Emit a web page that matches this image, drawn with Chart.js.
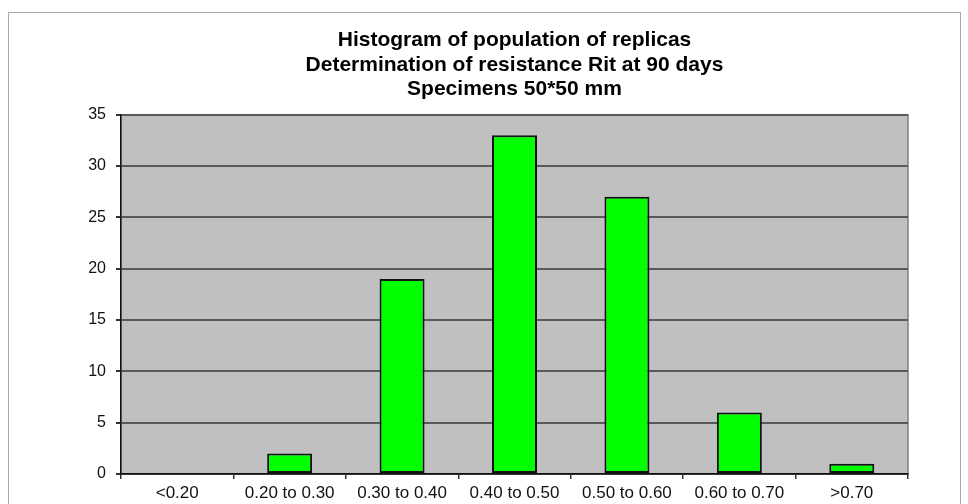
<!DOCTYPE html>
<html>
<head>
<meta charset="utf-8">
<script src="https://cdn.jsdelivr.net/npm/chart.js@4.4.1/dist/chart.umd.min.js"></script>
<style>
    html, body { margin: 0; padding: 0; background: #fff; }
    #wrap { width: 968px; height: 504px; position: relative; }
</style>
</head>
<body>
<div id="wrap"><canvas id="histChart"></canvas></div>
<script>
// Data
const categories = ['<0.20', '0.20 to 0.30', '0.30 to 0.40', '0.40 to 0.50', '0.50 to 0.60', '0.60 to 0.70', '>0.70'];
const counts = [0, 2, 19, 33, 27, 6, 1];
const titleLines = ['Histogram of population of replicas', 'Determination of resistance Rit at 90 days', 'Specimens 50*50 mm'];
const yMin = 0;
const yMax = 35;
const yStep = 5;

// Gray plot background + outer frame
const framePlugin = {
    id: 'framePlugin',
    beforeDraw(chart) {
        const ctx = chart.ctx;
        const a = chart.chartArea;
        ctx.save();
        ctx.fillStyle = '#ffffff';
        ctx.fillRect(0, 0, chart.width, chart.height);
        ctx.strokeStyle = '#a8a8a8';
        ctx.lineWidth = 1;
        ctx.strokeRect(8.5, 12.5, 952, 520);
        ctx.fillStyle = '#c0c0c0';
        ctx.fillRect(a.left, a.top, a.right - a.left, a.bottom - a.top);
        ctx.strokeStyle = '#808080';
        ctx.lineWidth = 1.5;
        ctx.strokeRect(a.left, a.top, a.right - a.left, a.bottom - a.top);
        ctx.restore();
    }
};

const ctx = document.getElementById('histChart').getContext('2d');
new Chart(ctx, {
    type: 'bar',
    data: {
        labels: categories,
        datasets: [{
            data: counts,
            backgroundColor: '#00ff00',
            borderColor: '#111111',
            borderWidth: 2,
            borderSkipped: false,
            categoryPercentage: 1.0,
            barPercentage: 0.4
        }]
    },
    options: {
        responsive: true,
        maintainAspectRatio: false,
        animation: false,
        layout: { padding: { top: 17, right: 60, left: 0, bottom: 0 } },
        plugins: {
            legend: { display: false },
            tooltip: { enabled: false },
            title: {
                display: true,
                fullSize: false,
                text: titleLines,
                color: '#000000',
                font: { family: 'Liberation Sans, Arial, sans-serif', size: 21, weight: 'bold', lineHeight: 1.17 },
                padding: { top: 11, bottom: 13 }
            }
        },
        scales: {
            x: {
                grid: {
                    offset: true,
                    drawOnChartArea: false,
                    tickLength: 5,
                    tickColor: '#333333',
                    lineWidth: 1.5
                },
                border: { color: '#111111', width: 1.5 },
                ticks: {
                    color: '#111111',
                    padding: 4,
                    maxRotation: 0,
                    font: { family: 'Liberation Sans, Arial, sans-serif', size: 17 }
                },
                afterFit(scale) { scale.height = 30; }
            },
            y: {
                min: yMin,
                max: yMax,
                ticks: {
                    stepSize: yStep,
                    color: '#111111',
                    padding: 10,
                    font: { family: 'Liberation Sans, Arial, sans-serif', size: 16 }
                },
                grid: {
                    color: '#5a5a5a',
                    lineWidth: 2,
                    tickLength: 5,
                    tickColor: '#333333'
                },
                border: { color: '#111111', width: 1.5 },
                afterFit(scale) { scale.width = 121; }
            }
        }
    },
    plugins: [framePlugin]
});
</script>
</body>
</html>
